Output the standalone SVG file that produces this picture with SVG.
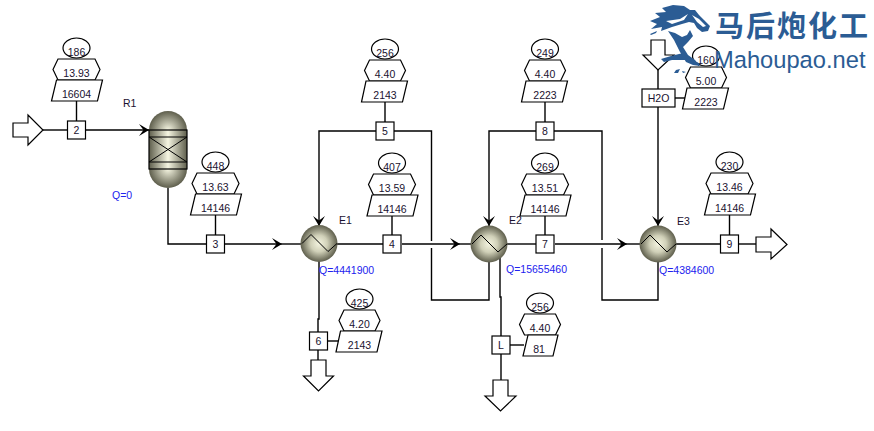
<svg xmlns="http://www.w3.org/2000/svg" xmlns:xlink="http://www.w3.org/1999/xlink" width="874" height="431" viewBox="0 0 874 431">
<style>
text{font-family:"Liberation Sans",Arial,"Noto Sans CJK SC",sans-serif;font-size:10.5px;fill:#1a1230}
.c{text-anchor:middle}
.b{fill:#2222ee}
.s{fill:#fff;stroke:#000;stroke-width:1.2}
.l{fill:none;stroke:#000;stroke-width:1.4}
.t{fill:none;stroke:#000;stroke-width:1}
.logo{fill:#2b5c94}
</style>
<defs>
<marker id="ah" markerUnits="userSpaceOnUse" markerWidth="12" markerHeight="14" refX="10" refY="6" orient="auto"><path d="M0,0L10,6L0,12L4.500,6Z" fill="#000"/></marker>
<radialGradient id="ball" cx="50%" cy="50%" r="50%"><stop offset="0" stop-color="#f4f4e0"/><stop offset=".45" stop-color="#d0d0b8"/><stop offset="1" stop-color="#5e5e4c"/></radialGradient>
<linearGradient id="body" x1="0" x2="1" y1="0" y2="0"><stop offset="0" stop-color="#5e5e4c"/><stop offset=".5" stop-color="#f6f6e2"/><stop offset="1" stop-color="#5e5e4c"/></linearGradient>
<radialGradient id="capT" gradientUnits="userSpaceOnUse" cx="168" cy="130" r="19"><stop offset="0" stop-color="#f6f6e2"/><stop offset="1" stop-color="#5e5e4c"/></radialGradient>
<radialGradient id="capB" gradientUnits="userSpaceOnUse" cx="168" cy="169" r="19"><stop offset="0" stop-color="#f6f6e2"/><stop offset="1" stop-color="#5e5e4c"/></radialGradient>
<ellipse id="el" cx="0" cy="10" rx="13.5" ry="10" class="s"/>
<path id="hw" d="M-18.5,21H18.5L23.5,31.5L18.5,42H-18.5L-23.5,31.5Z" class="s"/>
<path id="hn" d="M-15.5,21H15.5L20.5,31.5L15.5,42H-15.5L-20.5,31.5Z" class="s"/>
<path id="pw" d="M-20,42H26L21,63H-25Z" class="s"/>
<path id="pm" d="M-19,42H22.500L17.500,63H-23.500Z" class="s"/>
<path id="pn" d="M-12,42H18L13,63H-17Z" class="s"/>
<rect id="sq" x="-9" y="-9" width="18" height="18" class="s"/>
<g id="exch"><circle r="18.500" fill="url(#ball)"/><path class="t" d="M-17,0L-8,-9L9,8L18,0"/></g>
</defs>

<g id="connectors">
<path class="l" d="M43,130H67"/>
<path class="l" d="M85,130H149" marker-end="url(#ah)"/>
<path class="l" d="M76.500,101V121"/>
<path class="l" d="M168,188V244H207"/>
<path class="l" d="M215.500,215V235"/>
<path class="l" d="M225,244H282" marker-end="url(#ah)"/>
<path class="l" d="M282,244H302"/>
<path class="l" d="M337,244H383"/>
<path class="l" d="M392,216V235"/>
<path class="l" d="M402,244H460" marker-end="url(#ah)"/>
<path class="l" d="M460,244H472"/>
<path class="l" d="M376,131H319V226" marker-end="url(#ah)"/>
<path class="l" d="M385,102V122"/>
<path class="l" d="M394,131H431.500V241M431.500,248V300H489V262"/>
<path class="l" d="M319,261V319H318V332"/>
<path class="l" d="M318,350V360"/>
<path class="l" d="M328,341H339"/>
<path class="l" d="M536,131H489V226" marker-end="url(#ah)"/>
<path class="l" d="M545,102V122"/>
<path class="l" d="M554,131H602V240M602,248V300H658V262"/>
<path class="l" d="M507,244H536"/>
<path class="l" d="M545,215V235"/>
<path class="l" d="M555,244H627" marker-end="url(#ah)"/>
<path class="l" d="M627,244H640"/>
<path class="l" d="M500,258V297H501V336"/>
<path class="l" d="M501,354V380"/>
<path class="l" d="M510,345H524"/>
<path class="l" d="M658,70V89"/>
<path class="l" d="M658,107V226" marker-end="url(#ah)"/>
<path class="l" d="M675,98H685"/>
<path class="l" d="M676,244H720"/>
<path class="l" d="M729.500,215V235"/>
<path class="l" d="M739,244H756"/>
</g>

<g id="feed"><path class="s" d="M13,123H28V115L43,130L28,145V137H13Z"/></g>
<g id="out6"><path class="s" d="M311,360H326V376H333.500L318.500,391L303.500,376H311Z"/></g>
<g id="outL"><path class="s" d="M493,380H508V396H516L500.500,411L485,396H493Z"/></g>
<g id="h2oFeed"><path class="s" d="M651,40H665V55H674L658,70L643,55H651Z"/></g>
<g id="out9"><path class="s" d="M756,237H771V229L787,244.500L771,259V252H756Z"/></g>

<g id="R1">
<path d="M149,130A19,19 0 0 1 187,130Z" fill="url(#capT)"/>
<path d="M149,169A19,19 0 0 0 187,169Z" fill="url(#capB)"/>
<rect x="149" y="130" width="38" height="39" fill="url(#body)" stroke="#000" stroke-width="1.200"/>
<path class="t" d="M149,137H187M149,162H187M149,137L187,162M149,162L187,137"/>
<text x="123" y="107">R1</text>
<text x="112" y="199" class="b">Q=0</text>
</g>
<g id="E1"><use xlink:href="#exch" href="#exch" transform="translate(319,243.500)"/><text x="339" y="224">E1</text><text x="319" y="274" class="b">Q=4441900</text></g>
<g id="E2"><use xlink:href="#exch" href="#exch" transform="translate(489,244)"/><text x="509" y="224">E2</text><text x="506" y="273" class="b">Q=15655460</text></g>
<g id="E3"><use xlink:href="#exch" href="#exch" transform="translate(658,244)"/><text x="677" y="225">E3</text><text x="659" y="274" class="b">Q=4384600</text></g>

<g id="s2"><g transform="translate(76.500,38)"><use href="#el"/><use href="#hw"/><use href="#pw"/><text class="c" y="17.500">186</text><text class="c" y="38.500">13.93</text><text class="c" y="59.500">16604</text></g><use href="#sq" x="76.500" y="130"/><text class="c" x="76.500" y="134">2</text></g>
<g id="s3"><g transform="translate(215.500,152)"><use href="#el"/><use href="#hw"/><use href="#pw"/><text class="c" y="17.500">448</text><text class="c" y="38.500">13.63</text><text class="c" y="59.500">14146</text></g><use href="#sq" x="215.500" y="244"/><text class="c" x="215.500" y="248">3</text></g>
<g id="s5"><g transform="translate(385,39)"><use href="#el"/><use href="#hn"/><use href="#pm"/><text class="c" y="17.500">256</text><text class="c" y="38.500">4.40</text><text class="c" y="59.500">2143</text></g><use href="#sq" x="385" y="131"/><text class="c" x="385" y="135">5</text></g>
<g id="s4"><g transform="translate(392,153)"><use href="#el"/><use href="#hw"/><use href="#pw"/><text class="c" y="17.500">407</text><text class="c" y="38.500">13.59</text><text class="c" y="59.500">14146</text></g><use href="#sq" x="392" y="244"/><text class="c" x="392" y="248">4</text></g>
<g id="s8"><g transform="translate(545,39)"><use href="#el"/><use href="#hn"/><use href="#pm"/><text class="c" y="17.500">249</text><text class="c" y="38.500">4.40</text><text class="c" y="59.500">2223</text></g><use href="#sq" x="545" y="131"/><text class="c" x="545" y="135">8</text></g>
<g id="s7"><g transform="translate(545,153)"><use href="#el"/><use href="#hw"/><use href="#pw"/><text class="c" y="17.500">269</text><text class="c" y="38.500">13.51</text><text class="c" y="59.500">14146</text></g><use href="#sq" x="545" y="244"/><text class="c" x="545" y="248">7</text></g>
<g id="s9"><g transform="translate(729.500,152)"><use href="#el"/><use href="#hw"/><use href="#pw"/><text class="c" y="17.500">230</text><text class="c" y="38.500">13.46</text><text class="c" y="59.500">14146</text></g><use href="#sq" x="729.500" y="244"/><text class="c" x="729.500" y="248">9</text></g>
<g id="s6"><g transform="translate(359.500,289)"><use href="#el"/><use href="#hn"/><use href="#pm"/><text class="c" y="17.500">425</text><text class="c" y="38.500">4.20</text><text class="c" y="59.500">2143</text></g><use href="#sq" x="318.500" y="341"/><text class="c" x="318.500" y="345">6</text></g>
<g id="sL"><g transform="translate(540,293)"><use href="#el"/><use href="#hn"/><use href="#pn"/><text class="c" y="17.500">256</text><text class="c" y="38.500">4.40</text><text class="c" x="-1" y="59.500">81</text></g><use href="#sq" x="501" y="345"/><text class="c" x="501" y="349">L</text></g>
<g id="sH2O"><g transform="translate(706,46)"><use href="#el"/><use href="#hn"/><use href="#pm"/><text class="c" y="17.500">160</text><text class="c" y="38.500">5.00</text><text class="c" y="59.500">2223</text></g><rect x="642" y="89" width="33" height="18" class="s"/><text class="c" x="658.500" y="102">H2O</text></g>

<g id="logo">
<path class="logo" d="M673,5L684,6L690,10L695,10L699,15L704,20L710,26L708,31L702,32L697,28L694,23L689,22L682,24L672,27L661,31L662,27L651,29L657,24L650,21L660,17L655,13L666,12L662,8Z"/>
<path d="M692,15L699,19L706,26L703,27L697,22Z" fill="#fff"/>
<path d="M666,21L680,19L688,14L684,20L672,24Z" fill="#fff"/>
<path class="logo" d="M668,31L675,33L682,37L687,35L690,30L693,36L688,42L683,47L688,55L695,60L700,66L693,65L686,62L680,52L674,40ZM661,59L671,56L683,53L686,60L672,60L664,62ZM650,34L657,31L656,33L651,35ZM676,70L680,69L678,73L674,73ZM682,71L686,72L683,73ZM697,62L700,64L698,66Z"/>
<text x="715" y="37" style="font-family:'Noto Sans CJK SC',sans-serif;font-size:29px;font-weight:700;letter-spacing:2px;fill:#2b5c94">马后炮化工</text>
<text x="714" y="67.500" style="font-size:23.700px;fill:#2b5c94">Mahoupao.net</text>
</g>
</svg>
